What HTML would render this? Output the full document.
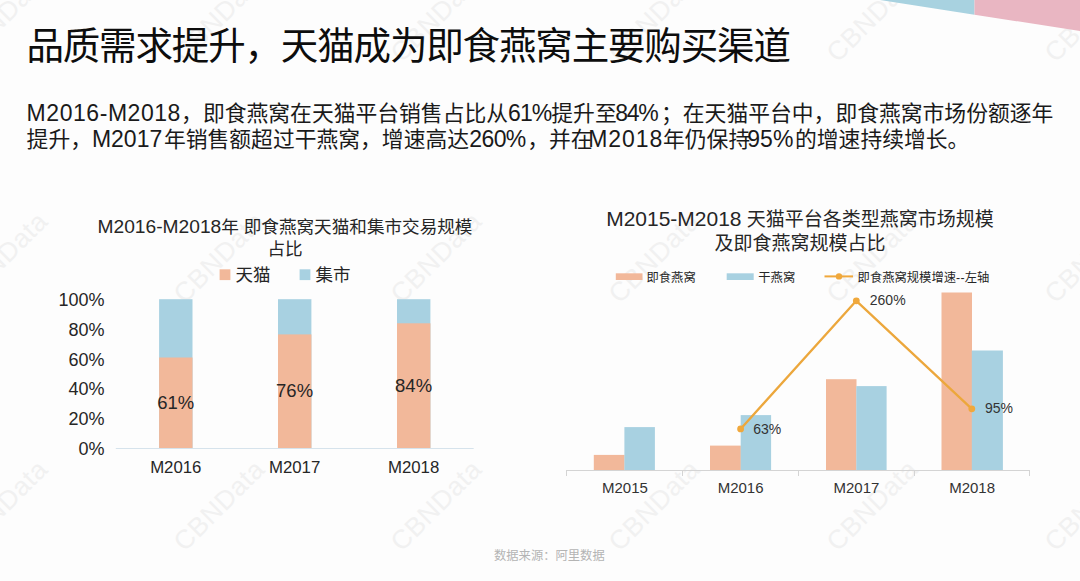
<!DOCTYPE html>
<html lang="zh-CN">
<head>
<meta charset="utf-8">
<title>品质需求提升，天猫成为即食燕窝主要购买渠道</title>
<style>
html,body{margin:0;padding:0;}
body{width:1080px;height:581px;overflow:hidden;position:relative;background:#fdfdfd;
 font-family:"Liberation Sans","Noto Sans CJK SC",sans-serif;color:#111;}
.a{position:absolute;white-space:nowrap;}
.wm{position:absolute;white-space:nowrap;font-family:"Liberation Sans",sans-serif;font-size:26.5px;color:#f1f1f1;
 transform-origin:0 0;transform:rotate(-45deg);letter-spacing:0.5px;line-height:1;}
#title{left:26.4px;top:28.4px;font-size:37.5px;letter-spacing:-1.15px;line-height:1;color:#0d0d0d;}
#para .s{position:absolute;white-space:nowrap;line-height:1;color:#1a1a1a;}
#para .c{font-size:21.8px;}
#para .l{font-size:23px;}
.t{position:absolute;white-space:nowrap;line-height:1;color:#262626;}
.lt1{font-size:17.6px;text-align:center;}
.lg{font-size:17.5px;}
.yl{font-size:18px;text-align:right;width:60px;}
.dl{font-size:18.5px;text-align:center;width:60px;}
.xl{font-size:16.8px;text-align:center;width:80px;}
.rt{font-size:19px;text-align:center;}
.lt1 .lat{font-size:19.2px;}
.rt .lat{font-size:21px;}
.rl{font-size:12.3px;color:#262626;}
.rx{font-size:15px;color:#333;text-align:center;width:80px;}
.rd{font-size:14px;color:#333;}
#src{left:494px;top:549.5px;font-size:12.3px;color:#b4b4b4;}
</style>
</head>
<body>


<!-- watermarks -->
<div class="wm" style="left:-48px;top:48px">CBNData</div>
<div class="wm" style="left:169px;top:48px">CBNData</div>
<div class="wm" style="left:386px;top:48px">CBNData</div>
<div class="wm" style="left:604px;top:48px">CBNData</div>
<div class="wm" style="left:822px;top:48px">CBNData</div>
<div class="wm" style="left:1040px;top:48px">CBNData</div>
<div class="wm" style="left:-48px;top:289px">CBNData</div>
<div class="wm" style="left:169px;top:289px">CBNData</div>
<div class="wm" style="left:386px;top:289px">CBNData</div>
<div class="wm" style="left:604px;top:289px">CBNData</div>
<div class="wm" style="left:822px;top:289px">CBNData</div>
<div class="wm" style="left:1040px;top:289px">CBNData</div>
<div class="wm" style="left:-48px;top:537px">CBNData</div>
<div class="wm" style="left:169px;top:537px">CBNData</div>
<div class="wm" style="left:386px;top:537px">CBNData</div>
<div class="wm" style="left:604px;top:537px">CBNData</div>
<div class="wm" style="left:822px;top:537px">CBNData</div>
<div class="wm" style="left:1040px;top:537px">CBNData</div>

<!-- top-right decoration -->
<svg class="a" style="left:0;top:0" width="1080" height="581" viewBox="0 0 1080 581">
 <polygon points="880,0 974.5,0 974.5,14.7" fill="#a8d2e0"/>
 <polygon points="974.5,0 1080,0 1080,31 974.5,14.7" fill="#e9b6c2"/>
</svg>

<div id="title" class="a">品质需求提升，天猫成为即食燕窝主要购买渠道</div>
<div id="para">
<span class="s l" style="left:26.6px;top:101.6px;letter-spacing:0.55px">M2016-M2018</span>
<span class="s c" style="left:181.1px;top:103.2px">，即食燕窝在天猫平台销售占比从</span>
<span class="s l" style="left:507.9px;top:101.6px;letter-spacing:-0.8px">61%</span>
<span class="s c" style="left:551.3px;top:103.2px">提升至</span>
<span class="s l" style="left:615.3px;top:101.6px;letter-spacing:-1.3px">84%</span>
<span class="s c" style="left:661px;top:103.2px">；在天猫平台中，即食燕窝市场份额逐年</span>
<span class="s c" style="left:26.6px;top:129px">提升，</span>
<span class="s l" style="left:91.9px;top:127.5px">M2017</span>
<span class="s c" style="left:163.9px;top:129px">年销售额超过干燕窝，增速高达</span>
<span class="s l" style="left:469.3px;top:127.5px;letter-spacing:-0.6px">260%</span>
<span class="s c" style="left:527.2px;top:129px">，并在</span>
<span class="s l" style="left:588.3px;top:127.5px;letter-spacing:0.9px">M2018</span>
<span class="s c" style="left:663px;top:129px">年仍保持</span>
<span class="s l" style="left:747.3px;top:127.5px">95%</span>
<span class="s c" style="left:795px;top:129px">的增速持续增长。</span>
</div>

<!-- CHART SHAPES -->
<svg class="a" style="left:0;top:0" width="1080" height="581" viewBox="0 0 1080 581">
 <!-- left chart legend -->
 <rect x="219.6" y="269.3" width="10.8" height="10.8" fill="#f2b89a"/>
 <rect x="299.6" y="269.3" width="10.8" height="10.8" fill="#a8d1e1"/>
 <!-- left chart bars: blue full column then orange overlay -->
 <rect x="159.1" y="299.2" width="33.4" height="148.8" fill="#a8d1e1"/>
 <rect x="159.1" y="357.5" width="33.4" height="90.5" fill="#f2b89a"/>
 <rect x="278" y="299.2" width="33.4" height="148.8" fill="#a8d1e1"/>
 <rect x="278" y="334.4" width="33.4" height="113.6" fill="#f2b89a"/>
 <rect x="397" y="299.2" width="33.4" height="148.8" fill="#a8d1e1"/>
 <rect x="397" y="323.3" width="33.4" height="124.7" fill="#f2b89a"/>
 <line x1="115.8" y1="448.5" x2="473.7" y2="448.5" stroke="#d6e3ec" stroke-width="1"/>
 <!-- right chart legend -->
 <rect x="615.8" y="273.3" width="26.7" height="6.7" fill="#f2b89a"/>
 <rect x="726.7" y="273.3" width="27" height="6.7" fill="#a8d1e1"/>
 <line x1="824.5" y1="276.4" x2="853" y2="276.4" stroke="#f0a83c" stroke-width="2"/>
 <circle cx="839" cy="276.4" r="3.2" fill="#f0a83c"/>
 <!-- right chart bars -->
 <rect x="593.8" y="454.9" width="30.8" height="15.1" fill="#f2b89a"/>
 <rect x="624.4" y="427.1" width="30.5" height="42.9" fill="#a8d1e1"/>
 <rect x="710" y="445.6" width="30.9" height="24.4" fill="#f2b89a"/>
 <rect x="740.7" y="415.1" width="30.4" height="54.9" fill="#a8d1e1"/>
 <rect x="826" y="379.2" width="30.5" height="90.8" fill="#f2b89a"/>
 <rect x="856.3" y="386.1" width="30.3" height="83.9" fill="#a8d1e1"/>
 <rect x="941.5" y="292.5" width="30.5" height="177.5" fill="#f2b89a"/>
 <rect x="971.8" y="350.5" width="31.1" height="119.5" fill="#a8d1e1"/>
 <g stroke="#d4d4d4" stroke-width="1" fill="none">
  <line x1="566" y1="470.5" x2="1030" y2="470.5"/>
  <line x1="566.5" y1="470" x2="566.5" y2="476"/>
  <line x1="682.5" y1="470" x2="682.5" y2="476"/>
  <line x1="798.5" y1="470" x2="798.5" y2="476"/>
  <line x1="914.5" y1="470" x2="914.5" y2="476"/>
  <line x1="1029.5" y1="470" x2="1029.5" y2="476"/>
 </g>
 <polyline points="740.6,428.9 856.3,300.8 971.8,408.8" fill="none" stroke="#eca73c" stroke-width="2.3" stroke-linejoin="round"/>
 <circle cx="740.6" cy="428.9" r="3.4" fill="#f0a83c"/>
 <circle cx="856.3" cy="300.8" r="3.4" fill="#f0a83c"/>
 <circle cx="971.8" cy="408.8" r="3.4" fill="#f0a83c"/>
</svg>

<!-- LEFT CHART TEXT -->
<div class="t lt1" style="left:85px;width:400px;top:217px"><span class="lat">M2016-M2018</span>年 即食燕窝天猫和集市交易规模</div>
<div class="t lt1" style="left:85px;width:400px;top:240.5px">占比</div>
<div class="t lg" style="left:235.5px;top:266.5px">天猫</div>
<div class="t lg" style="left:315.5px;top:266.5px">集市</div>
<div class="t yl" style="left:44.5px;top:290.5px">100%</div>
<div class="t yl" style="left:44.5px;top:320.5px">80%</div>
<div class="t yl" style="left:44.5px;top:350.5px">60%</div>
<div class="t yl" style="left:44.5px;top:379.5px">40%</div>
<div class="t yl" style="left:44.5px;top:409.5px">20%</div>
<div class="t yl" style="left:44.5px;top:439.5px">0%</div>
<div class="t dl" style="left:145.8px;top:394px">61%</div>
<div class="t dl" style="left:264.6px;top:382px">76%</div>
<div class="t dl" style="left:383.6px;top:377px">84%</div>
<div class="t xl" style="left:135.8px;top:459.5px">M2016</div>
<div class="t xl" style="left:254.6px;top:459.5px">M2017</div>
<div class="t xl" style="left:373.6px;top:459.5px">M2018</div>

<!-- RIGHT CHART TEXT -->
<div class="t rt" style="left:600px;width:400px;top:208px"><span class="lat">M2015-M2018</span> 天猫平台各类型燕窝市场规模</div>
<div class="t rt" style="left:600px;width:400px;top:233.5px">及即食燕窝规模占比</div>
<div class="t rl" style="left:646.5px;top:271.5px">即食燕窝</div>
<div class="t rl" style="left:758.3px;top:271.5px">干燕窝</div>
<div class="t rl" style="left:857.6px;top:271.5px">即食燕窝规模增速<span style="letter-spacing:0.3px">--</span>左轴</div>
<div class="t rd" style="left:753.3px;top:422px">63%</div>
<div class="t rd" style="left:869.8px;top:293px">260%</div>
<div class="t rd" style="left:985px;top:401px">95%</div>
<div class="t rx" style="left:584.9px;top:480px">M2015</div>
<div class="t rx" style="left:700.6px;top:480px">M2016</div>
<div class="t rx" style="left:816.4px;top:480px">M2017</div>
<div class="t rx" style="left:932.1px;top:480px">M2018</div>

<div id="src" class="t">数据来源：阿里数据</div>
</body>
</html>
